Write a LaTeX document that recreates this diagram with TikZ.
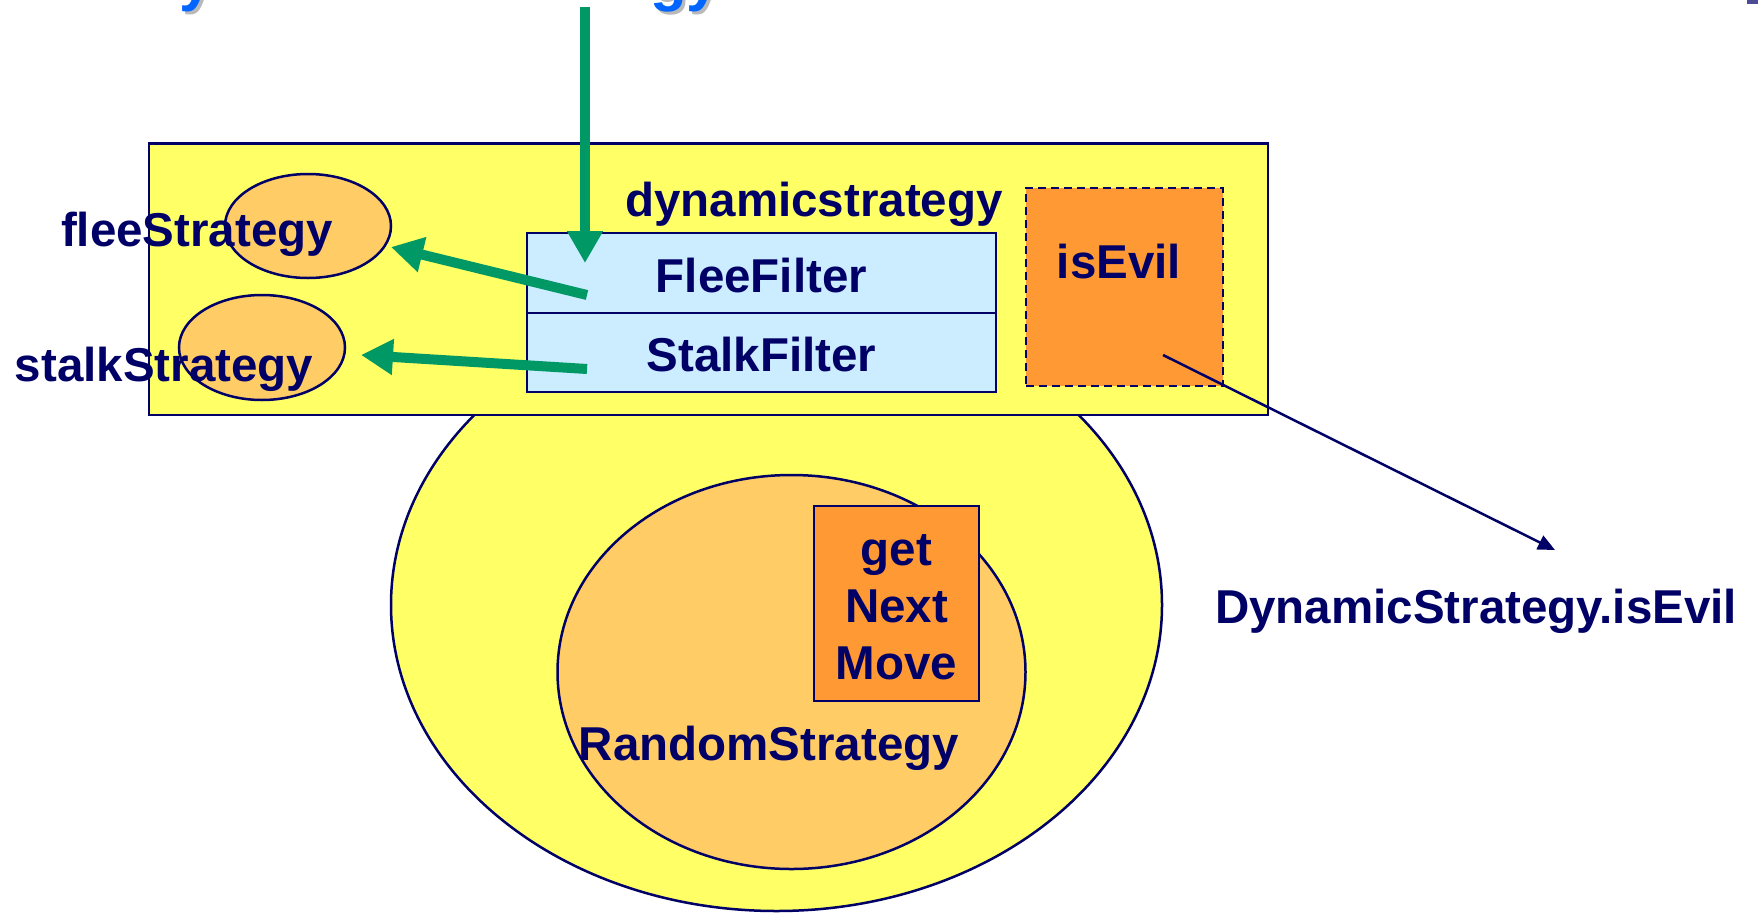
\documentclass[tikz,border=0pt]{standalone}
\usepackage{fontspec}
\setmainfont{Liberation Sans}
\usetikzlibrary{shapes.geometric,arrows.meta}

\definecolor{navy}{RGB}{0,0,102}
\definecolor{paleyellow}{RGB}{255,255,102}
\definecolor{lightorange}{RGB}{255,204,102}
\definecolor{deeporange}{RGB}{255,153,51}
\definecolor{paleblue}{RGB}{204,236,255}
\definecolor{arrowgreen}{RGB}{0,153,102}
\definecolor{titleblue}{RGB}{0,102,255}
\definecolor{shadowgrey}{RGB}{185,185,185}

\tikzset{
  outline/.style={draw=navy, line width=2.5pt},
  blob/.style={ellipse, outline, inner sep=0pt},
  box/.style={rectangle, outline, inner sep=0pt},
  lbl/.style={text=navy, inner sep=0pt, anchor=base,
              font=\bfseries\fontsize{47.5}{57}\selectfont},
  flow/.style={arrowgreen, line width=10pt,
               -{Triangle[length=32pt,width=34pt]}},
  pointer/.style={navy, line width=2.5pt,
                  -{Triangle[length=17pt,width=15pt]}},
  titlefrag/.style={inner sep=0pt, anchor=base west,
                    font=\bfseries\fontsize{60}{60}\selectfont}
}

\begin{document}
\begin{tikzpicture}[x=1pt,y=-1pt]
\useasboundingbox (0,0) rectangle (1758,913);

% heading above the frame, only its descenders reach into view
\begin{scope}
  \clip (0,0) rectangle (1758,913);
  \node[titlefrag, text=shadowgrey] (headA-shadow) at (182,2) {y};
  \node[titlefrag, text=titleblue]  (headA) at (179,-1) {y};
  \node[titlefrag, text=shadowgrey] (headB-shadow) at (653,2) {gy};
  \node[titlefrag, text=titleblue]  (headB) at (650,-1) {gy};
  \fill[navy!70] (1747,0) rectangle (1758,4);
\end{scope}

% outer strategy and the wrapped random strategy
\node[blob, fill=paleyellow, minimum width=771pt, minimum height=612pt]
  (outer) at (776.5,605) {};
\node[blob, fill=lightorange, minimum width=468pt, minimum height=394pt]
  (random) at (791.5,672) {};
\node[box, fill=deeporange, minimum width=165pt, minimum height=195pt]
  (nextmove) at (896.5,603.5) {};
\node[text=navy, align=center, inner sep=0pt,
      font=\bfseries\fontsize{47.5}{57}\selectfont]
  (nextmove-label) at (896.5,607) {get\\Next\\Move};
\node[lbl] (random-label) at (769,760) {RandomStrategy};

% dynamic strategy frame
\node[box, fill=paleyellow, minimum width=1119pt, minimum height=271.5pt]
  (dynamic) at (708.5,279.25) {};
\node[blob, fill=lightorange, minimum width=166pt, minimum height=104pt]
  (flee) at (308,226) {};
\node[blob, fill=lightorange, minimum width=166pt, minimum height=105pt]
  (stalk) at (262,347.5) {};
\node[box, fill=paleblue, minimum width=469pt, minimum height=80pt]
  (fleefilter) at (761.5,273) {};
\node[box, fill=paleblue, minimum width=469pt, minimum height=79pt]
  (stalkfilter) at (761.5,352.5) {};
\node[rectangle, draw=navy, line width=2.8pt, dash pattern=on 8pt off 5pt,
      fill=deeporange, minimum width=197pt, minimum height=198pt, inner sep=0pt]
  (evilbox) at (1124.5,287) {};

% labels
\node[lbl] (dynamic-label) at (814,216) {dynamicstrategy};
\node[lbl] (fleefilter-label) at (761.5,292) {FleeFilter};
\node[lbl] (stalkfilter-label) at (761.5,371) {StalkFilter};
\node[lbl] (evil-label) at (1119,278) {isEvil};
\node[lbl] (flee-label) at (197,246) {fleeStrategy};
\node[lbl] (stalk-label) at (164,381) {stalkStrategy};
\node[lbl] (evil-ref) at (1476,623) {DynamicStrategy.isEvil};

% connectors
\coordinate (incoming) at (585,7);
\coordinate (incoming-tip) at (585,263);
\coordinate (flee-src) at (587,295);
\coordinate (flee-tip) at (391,247);
\coordinate (stalk-src) at (587,369);
\coordinate (stalk-tip) at (361,355);
\coordinate (evil-src) at (1163,355);
\coordinate (evil-tip) at (1555,550);

\draw[flow] (incoming) -- (incoming-tip);
\draw[flow] (flee-src) -- (flee-tip);
\draw[flow] (stalk-src) -- (stalk-tip);
\draw[pointer] (evil-src) -- (evil-tip);
\end{tikzpicture}
\end{document}
